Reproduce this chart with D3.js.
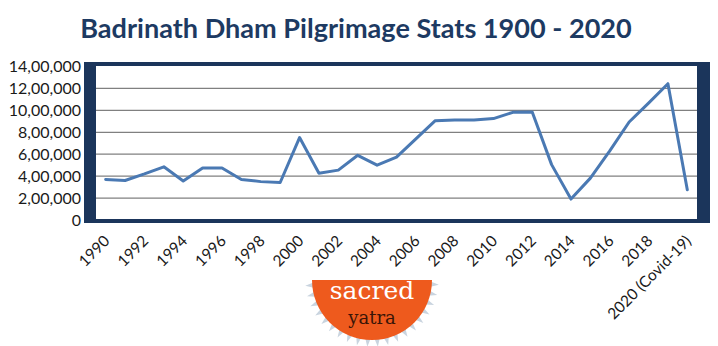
<!DOCTYPE html>
<html>
<head>
<meta charset="utf-8">
<script src="https://cdn.jsdelivr.net/npm/d3@7/dist/d3.min.js"></script>
<style>
  html, body { margin: 0; padding: 0; background: #ffffff; }
  svg { display: block; }
</style>
</head>
<body>
<svg id="chart" width="718" height="346"></svg>
<script>
// ---- data ----
const chartTitle = "Badrinath Dham Pilgrimage Stats 1900 - 2020";

const years = [
  "1990", "1991", "1992", "1993", "1994", "1995", "1996", "1997", "1998", "1999",
  "2000", "2001", "2002", "2003", "2004", "2005", "2006", "2007", "2008", "2009",
  "2010", "2011", "2012", "2013", "2014", "2015", "2016", "2017", "2018", "2019",
  "2020 (Covid-19)"
];

const pilgrims = [
  370000, 360000, 420000, 485000, 355000, 475000, 475000, 370000, 350000, 342000,
  752000, 427000, 455000, 590000, 500000, 573000, 740000, 906000, 912000, 913000,
  925000, 982000, 985000, 505000, 191000, 382000, 630000, 894000, 1066000, 1243000,
  276000
];

const yTicks = [0, 200000, 400000, 600000, 800000, 1000000, 1200000, 1400000];

const xTickLabels = [
  "1990", "1992", "1994", "1996", "1998", "2000", "2002", "2004", "2006", "2008",
  "2010", "2012", "2014", "2016", "2018", "2020 (Covid-19)"
];

// ---- helpers ----
// Indian digit grouping: 1400000 -> "14,00,000"
function indianFormat(n) {
  const s = String(Math.round(n));
  if (s.length <= 3) return s;
  const last3 = s.slice(-3);
  let rest = s.slice(0, -3);
  const parts = [];
  while (rest.length > 2) {
    parts.unshift(rest.slice(-2));
    rest = rest.slice(0, -2);
  }
  if (rest.length) parts.unshift(rest);
  return parts.join(",") + "," + last3;
}

// ---- layout ----
const svg = d3.select("#chart");
const navy = "#1b355b";
const frame = { left: 84, right: 710, top: 62, bottom: 223 };
const plot = { left: 96, right: 697, top: 66, bottom: 219 };

const x = d3.scaleBand().domain(years).range([plot.left, plot.right]);
const y = d3.scaleLinear().domain([0, 1400000]).range([220, 66.5]);
const cx = d => x(d) + x.bandwidth() / 2;

// title
const titleText = svg.append("text")
  .attr("x", 356)
  .attr("y", 38)
  .attr("text-anchor", "middle")
  .attr("font-family", "Lato, 'Open Sans', sans-serif")
  .attr("font-weight", "bold")
  .attr("font-size", 30)
  .attr("fill", "#1d3a62")
  .text(chartTitle);
const tw = titleText.node().getComputedTextLength();
titleText.attr("font-size", 30 * 552 / tw);

// frame
svg.append("rect")
  .attr("x", frame.left).attr("y", frame.top)
  .attr("width", frame.right - frame.left)
  .attr("height", frame.bottom - frame.top)
  .attr("fill", navy);
svg.append("rect")
  .attr("x", plot.left).attr("y", plot.top)
  .attr("width", plot.right - plot.left)
  .attr("height", plot.bottom - plot.top)
  .attr("fill", "#ffffff");

// gridlines
svg.append("g")
  .selectAll("line")
  .data(yTicks.filter(t => t > 0 && t < 1400000))
  .join("line")
  .attr("x1", plot.left).attr("x2", plot.right)
  .attr("y1", d => y(d)).attr("y2", d => y(d))
  .attr("stroke", "#808080")
  .attr("stroke-width", 1.3);

// y labels
svg.append("g")
  .selectAll("text")
  .data(yTicks)
  .join("text")
  .attr("x", 81)
  .attr("y", d => y(d))
  .attr("dy", "0.36em")
  .attr("text-anchor", "end")
  .attr("font-family", "Lato, 'Open Sans', sans-serif")
  .attr("font-size", 16)
  .attr("fill", "#1a1a1a")
  .text(d => indianFormat(d));

// x labels
svg.append("g")
  .selectAll("text")
  .data(xTickLabels)
  .join("text")
  .attr("transform", d => `translate(${cx(d) + 5},${242}) rotate(-45)`)
  .attr("text-anchor", "end")
  .attr("font-family", "Lato, 'Open Sans', sans-serif")
  .attr("font-size", 15.5)
  .attr("fill", "#1a1a1a")
  .text(d => d);

// series line
const series = years.map((yr, i) => ({ year: yr, value: pilgrims[i] }));
svg.append("path")
  .datum(series)
  .attr("fill", "none")
  .attr("stroke", "#4a79b3")
  .attr("stroke-width", 3)
  .attr("stroke-linejoin", "round")
  .attr("stroke-linecap", "round")
  .attr("d", d3.line().x(d => cx(d.year)).y(d => y(d.value)));

// ---- logo ----
const logo = svg.append("g").attr("transform", "translate(372,280)");
const R = 60;
// sun rays around the lower half disc
const rays = d3.range(4, 180, 9).map(a => a * Math.PI / 180);
logo.selectAll("path.ray")
  .data(rays)
  .join("path")
  .attr("class", "ray")
  .attr("fill", "#c9d4df")
  .attr("d", a => {
    const half = 0.05;
    const p1 = [Math.cos(a - half) * (R - 2), Math.sin(a - half) * (R - 2)];
    const p2 = [Math.cos(a) * (R + 7), Math.sin(a) * (R + 7)];
    const p3 = [Math.cos(a + half) * (R - 2), Math.sin(a + half) * (R - 2)];
    return `M${p1}L${p2}L${p3}Z`;
  });
logo.append("path")
  .attr("fill", "#ee5a1d")
  .attr("d", d3.arc()({ innerRadius: 0, outerRadius: R, startAngle: Math.PI / 2, endAngle: 3 * Math.PI / 2 }));
logo.append("text")
  .attr("x", 0).attr("y", 19)
  .attr("text-anchor", "middle")
  .attr("font-family", "'DejaVu Serif', 'Liberation Serif', serif")
  .attr("font-size", 25)
  .attr("fill", "#ffffff")
  .text("sacred");
logo.append("text")
  .attr("x", 0).attr("y", 44)
  .attr("text-anchor", "middle")
  .attr("font-family", "'DejaVu Serif', 'Liberation Serif', serif")
  .attr("font-size", 18)
  .attr("fill", "#3a1507")
  .text("yatra");
</script>
</body>
</html>
